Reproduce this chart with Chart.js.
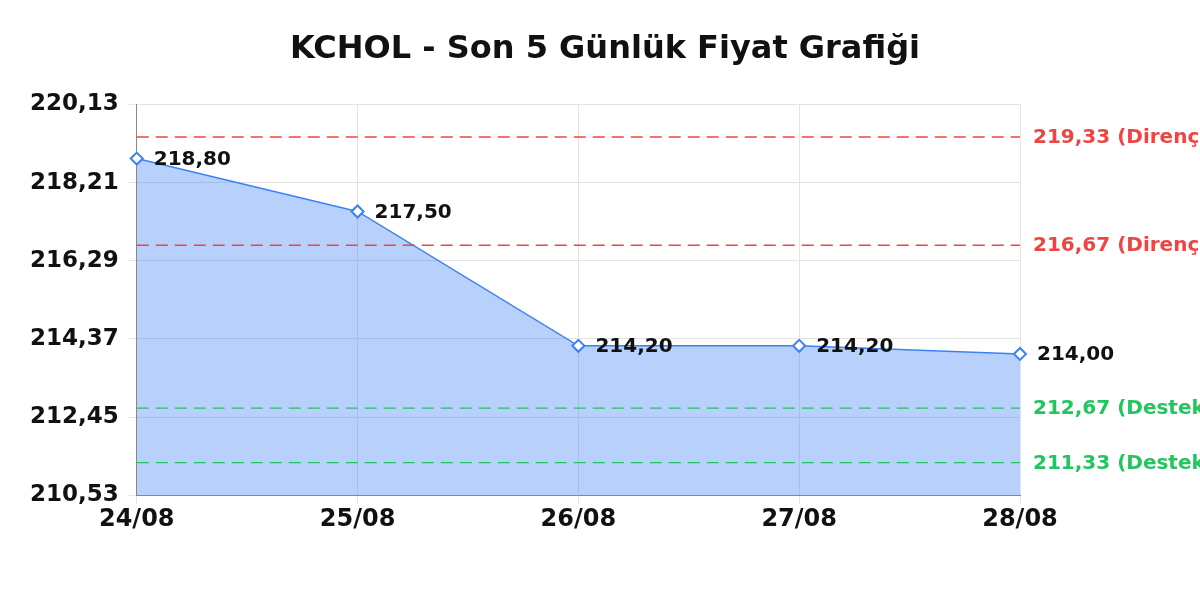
<!DOCTYPE html>
<html>
<head>
<meta charset="utf-8">
<script src="https://cdn.jsdelivr.net/npm/chart.js@4/dist/chart.umd.min.js"></script>
<style>
  html, body { margin: 0; padding: 0; background: #fff; }
  #wrap { width: 1200px; height: 600px; }
</style>
</head>
<body>
<div id="wrap"><canvas id="priceChart"></canvas></div>
<script>
// KCHOL last 5 days
const days = ['24/08', '25/08', '26/08', '27/08', '28/08'];
const prices = [218.80, 217.50, 214.20, 214.20, 214.00];
const yTicks = [210.53, 212.45, 214.37, 216.29, 218.21, 220.13];
const levelValues = [219.33, 216.67, 212.67, 211.33];
const levelNames = ['Direnç', 'Direnç', 'Destek', 'Destek'];

const FONT = "'DejaVu Sans', sans-serif";
const fmt = v => v.toFixed(2).replace('.', ',');

// dashed support / resistance lines + labels to the right
const levelsPlugin = {
    id: 'levels',
    afterDatasetsDraw(chart) {
        const { ctx, chartArea, scales } = chart;
        ctx.save();
        levelValues.forEach((v, i) => {
            const y = scales.y.getPixelForValue(v);
            const color = levelNames[i] === 'Direnç' ? '#ef4444' : '#22c55e';
            ctx.strokeStyle = color;
            ctx.lineWidth = 1.4;
            ctx.setLineDash([12, 7]);
            ctx.beginPath();
            ctx.moveTo(chartArea.left, y);
            ctx.lineTo(chartArea.right, y);
            ctx.stroke();
            ctx.setLineDash([]);
            ctx.fillStyle = color;
            ctx.font = 'bold 20px ' + FONT;
            ctx.textAlign = 'left';
            ctx.textBaseline = 'middle';
            ctx.fillText(fmt(v) + ' (' + levelNames[i] + ')', chartArea.right + 13, y + 1);
        });
        ctx.restore();
    }
};

// value labels next to each point
const valueLabels = {
    id: 'valueLabels',
    afterDatasetsDraw(chart) {
        const { ctx } = chart;
        const meta = chart.getDatasetMeta(0);
        ctx.save();
        ctx.fillStyle = '#111';
        ctx.font = 'bold 20px ' + FONT;
        ctx.textAlign = 'left';
        ctx.textBaseline = 'middle';
        meta.data.forEach((pt, i) => {
            ctx.fillText(fmt(prices[i]), pt.x + 17, pt.y + 1);
        });
        ctx.restore();
    }
};

const ctx = document.getElementById('priceChart').getContext('2d');
new Chart(ctx, {
    type: 'line',
    data: {
        labels: days,
        datasets: [{
            label: 'KCHOL',
            data: prices,
            borderColor: '#3b82f6',
            backgroundColor: 'rgba(59,130,246,0.37)',
            borderWidth: 1.4,
            fill: 'start',
            tension: 0,
            pointStyle: 'rectRot',
            pointRadius: 6,
            pointBorderWidth: 2,
            pointBackgroundColor: '#fff',
            pointBorderColor: '#3b82f6'
        }]
    },
    options: {
        responsive: true,
        maintainAspectRatio: false,
        animation: false,
        layout: { padding: { left: 20, right: 10, top: 10, bottom: 64 } },
        plugins: {
            legend: { display: false },
            tooltip: { enabled: false },
            title: {
                display: true,
                text: 'KCHOL - Son 5 Günlük Fiyat Grafiği',
                color: '#111',
                font: { family: FONT, size: 32, weight: 'bold' },
                padding: { top: 20, bottom: 36 }
            }
        },
        scales: {
            x: {
                grid: { color: '#e3e3e3' },
                border: { color: '#888', width: 1 },
                ticks: {
                    color: '#111',
                    font: { family: FONT, size: 24, weight: 'bold' },
                    maxRotation: 0,
                    padding: 2
                }
            },
            y: {
                min: yTicks[0],
                max: yTicks[yTicks.length - 1],
                afterBuildTicks(axis) { axis.ticks = yTicks.map(v => ({ value: v })); },
                grid: { color: '#e3e3e3' },
                border: { color: '#888', width: 1 },
                ticks: {
                    color: '#111',
                    font: { family: FONT, size: 23, weight: 'bold' },
                    padding: 10,
                    callback: v => fmt(v)
                }
            },
            // empty right axis: reserves room for the level labels
            yRight: {
                position: 'right',
                min: yTicks[0],
                max: yTicks[yTicks.length - 1],
                grid: { display: false, drawOnChartArea: false },
                border: { display: false },
                ticks: { display: false },
                afterFit(axis) { axis.width = 170; }
            }
        }
    },
    plugins: [levelsPlugin, valueLabels]
});
</script>
</body>
</html>
